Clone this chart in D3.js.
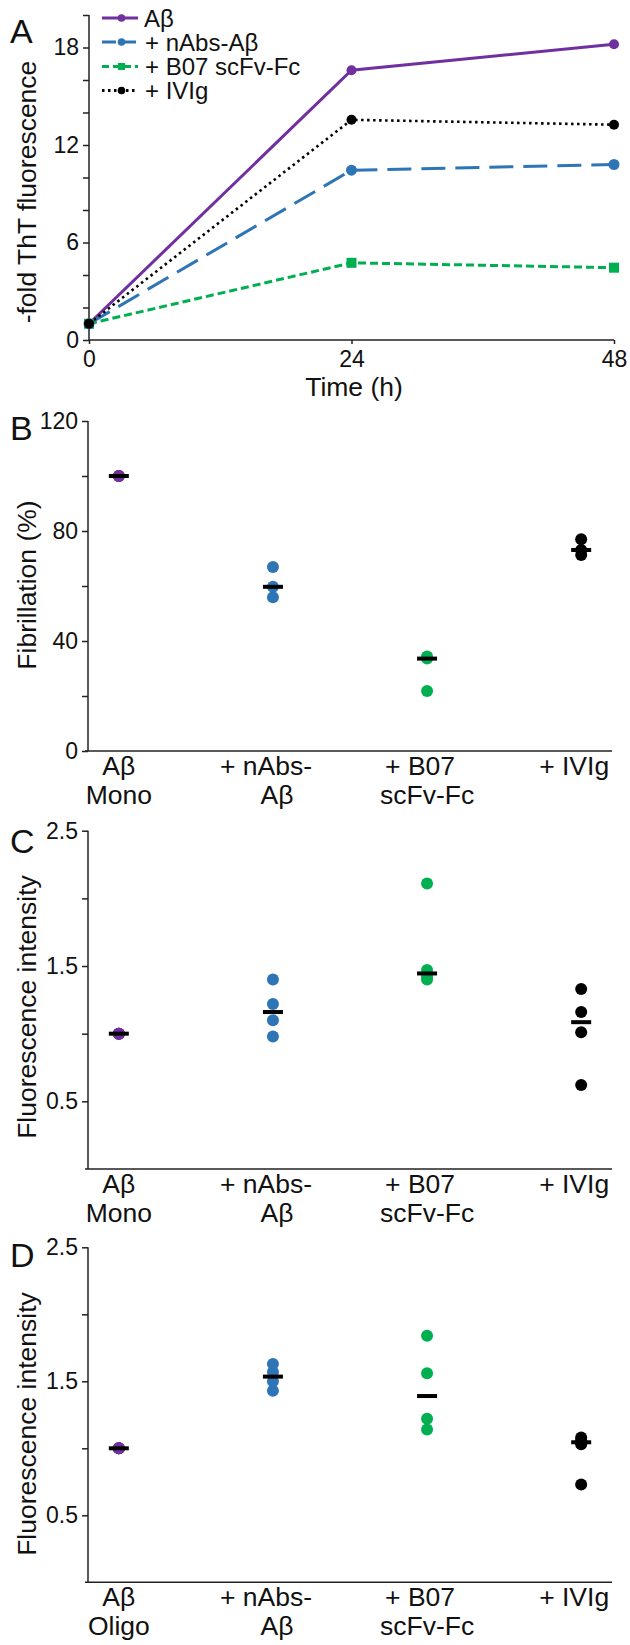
<!DOCTYPE html>
<html><head><meta charset="utf-8">
<script src="https://cdn.jsdelivr.net/npm/d3@7"></script>
<style>
body{margin:0;background:#fff}
text{font-family:"Liberation Sans",Arial,Helvetica,sans-serif;fill:#111}
</style>
</head><body>
<svg id="c" width="630" height="1645"></svg>
<script>
// ---------- data ----------
const timePoints = [0, 24, 48];
const seriesNames = ["Aβ", "+ nAbs-Aβ", "+ B07 scFv-Fc", "+ IVIg"];
const thtAb   = [1.0, 16.6, 18.2];
const thtNAbs = [1.0, 10.45, 10.8];
const thtB07  = [1.0, 4.75, 4.45];
const thtIVIg = [1.0, 13.55, 13.25];
const yTicksA = [0, 2, 4, 6, 8, 10, 12, 14, 16, 18, 20];
const yLabelsA = [0, 6, 12, 18];

const categoriesMono  = [["Aβ", "Mono"], ["+ nAbs-", "Aβ"], ["+ B07", "scFv-Fc"], ["+ IVIg"]];
const categoriesOligo = [["Aβ", "Oligo"], ["+ nAbs-", "Aβ"], ["+ B07", "scFv-Fc"], ["+ IVIg"]];

const fibAb   = [100, 100, 100];
const fibNAbs = [66.9, 59.7, 55.9];
const fibB07  = [34.4, 33.6, 21.8];
const fibIVIg = [77.0, 73.1, 71.3];
const yTicksB = [0, 20, 40, 60, 80, 100, 120];
const yLabelsB = [0, 40, 80, 120];

const monoAb   = [1.0, 1.0, 1.0, 1.0];
const monoNAbs = [1.40, 1.22, 1.10, 0.98];
const monoB07  = [2.11, 1.47, 1.42, 1.40];
const monoIVIg = [1.33, 1.16, 1.01, 0.62];

const oligoAb   = [1.0, 1.0, 1.0, 1.0];
const oligoNAbs = [1.63, 1.57, 1.50, 1.43];
const oligoB07  = [1.84, 1.56, 1.22, 1.14];
const oligoIVIg = [1.08, 1.06, 1.03, 0.73];
const yTicksCD = [0.5, 1.0, 1.5, 2.0, 2.5];
const yLabelsCD = [0.5, 1.5, 2.5];

// ---------- styles ----------
const colors = ["#7030A0", "#2E75B6", "#00B050", "#000000"];
const dashes = [null, "24,10", "8,4", "2.5,3.5"];
const FONT_TICK = 23, FONT_TITLE = 26.5, FONT_CAT = 26.5, FONT_LETTER = 34, FONT_LEG = 24;

const svg = d3.select("#c");
svg.append("rect").attr("width", 630).attr("height", 1645).attr("fill", "#fff");

function styleAxis(g) {
  g.selectAll("path,line").attr("stroke", "#222").attr("stroke-width", 1.5);
  g.selectAll("text").style("font-size", FONT_TICK + "px").attr("fill", "#111");
}
function letter(t, y) {
  svg.append("text").attr("x", 10).attr("y", y).text(t).style("font-size", FONT_LETTER + "px");
}
function yTitle(t, x, y) {
  svg.append("text").attr("transform", `translate(${x},${y}) rotate(-90)`)
    .attr("text-anchor", "middle").text(t).style("font-size", FONT_TITLE + "px").attr("fill", "#222");
}

// ---------- Panel A ----------
{
  const x = d3.scaleLinear().domain([0, 48]).range([89, 614]);
  const y = d3.scaleLinear().domain([0, 20]).range([340, 15]);
  const gy = svg.append("g").attr("transform", "translate(89,0)")
    .call(d3.axisLeft(y).tickValues(yTicksA).tickSize(6).tickPadding(4)
      .tickFormat(d => yLabelsA.includes(d) ? d : ""));
  gy.select(".domain").attr("d", `M-0,${y(20)}V${y(0)}`);
  styleAxis(gy);
  const gx = svg.append("g").attr("transform", "translate(0,340)")
    .call(d3.axisBottom(x).tickValues(timePoints).tickSize(4).tickPadding(7));
  gx.select(".domain").attr("d", `M${x(0)},0H${x(48)}`);
  styleAxis(gx);

  const series = [thtAb, thtNAbs, thtB07, thtIVIg];
  const line = d3.line().x((d, i) => x(timePoints[i])).y(d => y(d));
  series.forEach((s, k) => {
    svg.append("path").attr("d", line(s)).attr("fill", "none")
      .attr("stroke", colors[k]).attr("stroke-width", k === 3 ? 2.6 : 3)
      .attr("stroke-dasharray", dashes[k]);
  });
  const order = [2, 1, 0, 3];
  order.forEach(k => {
    const s = series[k];
    s.forEach((v, i) => {
      if (k === 2) {
        svg.append("rect").attr("x", x(timePoints[i]) - 5).attr("y", y(v) - 5)
          .attr("width", 10).attr("height", 10).attr("fill", colors[k]);
      } else {
        svg.append("circle").attr("cx", x(timePoints[i])).attr("cy", y(v))
          .attr("r", k === 1 ? 5.5 : 5).attr("fill", colors[k]);
      }
    });
  });

  // legend
  const legY = [18, 42, 66.5, 90.5];
  seriesNames.forEach((n, k) => {
    svg.append("line").attr("x1", 102).attr("x2", 138).attr("y1", legY[k]).attr("y2", legY[k])
      .attr("stroke", colors[k]).attr("stroke-width", 3)
      .attr("stroke-dasharray", k === 1 ? "14,6" : (k === 2 ? "7,4" : dashes[k]));
    if (k === 2) {
      svg.append("rect").attr("x", 118).attr("y", legY[k] - 3.5).attr("width", 7).attr("height", 7).attr("fill", colors[k]);
    } else {
      svg.append("circle").attr("cx", 121.5).attr("cy", legY[k]).attr("r", 3.8).attr("fill", colors[k]);
    }
    svg.append("text").attr("x", k === 0 ? 144 : 145).attr("y", legY[k] + 8.5)
      .text(n).style("font-size", FONT_LEG + "px");
  });

  svg.append("text").attr("x", 354).attr("y", 396).attr("text-anchor", "middle")
    .text("Time (h)").style("font-size", FONT_TITLE + "px");
  yTitle("-fold ThT fluorescence", 36, 192);
  letter("A", 43);
}

// ---------- Dot panels ----------
function dotPanel(opt) {
  const x = d3.scalePoint().domain(d3.range(opt.cats.length)).range([88, 612]).padding(0.2);
  const y = d3.scaleLinear().domain([0, opt.max]).range([opt.y0, opt.y1]);
  const gy = svg.append("g").attr("transform", "translate(88,0)")
    .call(d3.axisLeft(y).tickValues(opt.ticks).tickSize(6).tickPadding(4)
      .tickFormat(d => opt.labels.includes(d) ? d : ""));
  gy.select(".domain").attr("d", `M0,${y(opt.max)}V${y(0)}`);
  styleAxis(gy);
  const gx = svg.append("g").attr("transform", `translate(0,${opt.y0})`)
    .call(d3.axisBottom(x).tickSize(0).tickFormat(""));
  gx.select(".domain").attr("d", `M85,0H612`);
  styleAxis(gx);

  opt.cats.forEach((lines, i) => {
    lines.forEach((t, j) => {
      const dx = t.startsWith("+") ? -7 : (i === 1 && j === 1 ? 4 : 0);
      svg.append("text").attr("x", x(i) + dx).attr("y", opt.y0 + 24 + j * 29)
        .attr("text-anchor", "middle").text(t).style("font-size", FONT_CAT + "px");
    });
  });

  opt.data.forEach((vals, i) => {
    svg.selectAll(null).data(vals).enter().append("circle")
      .attr("cx", x(i)).attr("cy", d => y(d)).attr("r", 6).attr("fill", colors[i]);
  });
  opt.data.forEach((vals, i) => {
    const m = d3.median(vals);
    svg.append("rect").attr("x", x(i) - 10).attr("y", y(m) - 2)
      .attr("width", 20).attr("height", 4).attr("fill", "#000");
  });

  yTitle(opt.title, 36, opt.titleY);
  letter(opt.letter, opt.letterY);
}

dotPanel({cats: categoriesMono, data: [fibAb, fibNAbs, fibB07, fibIVIg], max: 120,
  y0: 751, y1: 421, ticks: yTicksB, labels: yLabelsB, title: "Fibrillation (%)", titleY: 585,
  letter: "B", letterY: 440});
dotPanel({cats: categoriesMono, data: [monoAb, monoNAbs, monoB07, monoIVIg], max: 2.5,
  y0: 1169, y1: 830.7, ticks: yTicksCD, labels: yLabelsCD, title: "Fluorescence intensity", titleY: 1007,
  letter: "C", letterY: 853});
dotPanel({cats: categoriesOligo, data: [oligoAb, oligoNAbs, oligoB07, oligoIVIg], max: 2.5,
  y0: 1582.3, y1: 1247.3, ticks: yTicksCD, labels: yLabelsCD, title: "Fluorescence intensity", titleY: 1424,
  letter: "D", letterY: 1267});
</script>
</body></html>
